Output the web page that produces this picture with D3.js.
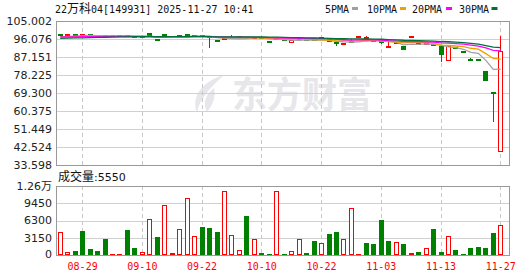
<!DOCTYPE html>
<html><head><meta charset="utf-8">
<script src="https://cdn.jsdelivr.net/npm/d3@7/dist/d3.min.js"></script>
<style>body{margin:0;background:#fff}svg{display:block}</style>
</head><body><svg id="c" width="530" height="276"></svg>
<script>
const title = "22万科04[149931] 2025-11-27 10:41";
const dates = ["08-26","08-27","08-28","08-29","09-01","09-02","09-03","09-04","09-05","09-08","09-09","09-10","09-11","09-12","09-15","09-16","09-17","09-18","09-19","09-22","09-23","09-24","09-25","09-26","09-29","09-30","10-09","10-10","10-13","10-14","10-15","10-16","10-17","10-20","10-21","10-22","10-23","10-24","10-27","10-28","10-29","10-30","10-31","11-03","11-04","11-05","11-06","11-07","11-10","11-11","11-12","11-13","11-14","11-17","11-18","11-19","11-20","11-21","11-24","11-27"];
const open  = [97.95,97.85,97.95,97.80,97.84,97.80,97.50,97.30,97.35,97.40,97.25,97.15,98.90,95.60,98.60,97.25,97.30,98.50,97.40,97.50,97.70,95.60,96.00,96.70,96.80,96.90,96.70,96.50,94.60,95.80,95.50,94.20,95.80,95.60,95.45,97.00,96.40,94.80,92.90,94.60,96.95,96.70,95.20,94.80,91.90,94.30,92.80,96.95,93.40,93.40,93.05,92.70,85.30,91.60,89.60,85.80,85.70,80.20,69.60,39.90];
const high  = [97.95,97.95,97.95,97.92,97.84,97.80,97.50,97.35,97.40,97.40,97.25,97.20,98.90,95.60,98.60,97.30,97.35,98.50,97.90,97.50,97.70,95.60,96.15,97.90,96.90,96.90,96.80,96.50,94.60,95.95,95.50,95.50,95.95,95.60,95.45,97.00,96.40,94.80,94.20,95.90,97.05,97.70,95.20,94.80,94.70,94.30,92.80,97.05,93.40,93.50,93.15,92.70,93.20,91.60,89.60,86.70,85.70,80.20,69.60,97.60];
const low   = [97.88,97.85,97.86,97.80,97.80,97.50,97.30,97.30,97.35,97.25,97.15,97.15,97.30,95.40,96.50,97.25,97.30,97.50,97.40,97.40,91.80,94.80,96.00,96.70,96.80,96.70,96.70,96.40,94.45,95.80,95.35,94.20,95.80,95.45,95.30,95.90,94.40,92.80,92.90,93.90,96.95,96.70,95.00,93.40,91.90,94.20,90.40,96.95,93.30,93.40,93.05,84.80,85.30,91.45,89.45,85.65,85.60,75.20,55.00,39.90];
const close = [97.88,97.93,97.86,97.84,97.80,97.50,97.30,97.35,97.40,97.25,97.15,97.20,97.30,95.40,97.20,97.30,97.35,97.50,97.90,97.40,96.40,94.80,96.15,96.80,96.90,96.70,96.80,96.40,94.45,95.95,95.35,95.50,95.95,95.45,95.30,95.90,94.40,93.40,94.20,94.50,97.05,96.90,95.00,94.00,92.00,94.20,90.40,97.05,93.30,93.50,93.15,88.10,92.80,91.45,89.45,85.65,85.60,75.20,69.30,90.10];
const volume = [4200,550,800,4380,1100,800,2920,150,150,4560,1280,550,6500,3290,9130,360,4700,10400,3400,5100,4930,4200,11690,3590,850,7120,2860,360,150,11620,150,670,2860,360,2560,2190,3830,4200,2860,8520,150,2190,2010,6390,2560,2370,2010,360,550,1330,4750,550,3400,910,150,1280,1460,1280,4080,5550];
// closes of the 29 sessions before the window (estimated from the MA lines)
const priorClose = [94.8,95.0,95.2,94.9,95.1,95.0,94.8,95.1,95.0,95.1, 97.0,97.2,97.1,97.0,97.2,97.1,97.1,97.0,97.2,97.1, 97.0,97.1,96.9,97.0,97.0,97.1,96.9,97.0,97.0];
const priceTicks = [105.002,96.076,87.151,78.225,69.300,60.375,51.449,42.524,33.598];
const priceTickLabels = ["105.002","96.076","87.151","78.225","69.300","60.375","51.449","42.524","33.598"];
const volTicks = [12600,9450,6300,3150,0];
const volTickLabels = ["1.26万","9450","6300","3150","0"];
const dateTicks = ["08-29","09-10","09-22","10-10","10-22","11-03","11-13","11-27"];
const maPeriods = [5,10,20,30];
const maNames = ["5PMA","10PMA","20PMA","30PMA"];
const volLabel = "成交量:";
const lastVolume = 5550;

const RED="#ff0000", GREEN="#008000";
const maColors = ["#a0a0a0","#f0a000","#ff00ff","#00703c"];
const svg = d3.select("#c");
const L=56, R=509, T=21, B=165, VT=186, VB=255;
const x = d3.scaleBand().domain(dates).range([56.5,504.5]);
const cx = d => x(d) + x.bandwidth()/2;
const y = d3.scaleLinear().domain([33.598,105.002]).range([B,T]);
const yv = d3.scaleLinear().domain([0,12600]).range([VB,VT]);
const mono = "'DejaVu Sans Mono','Liberation Mono',monospace";
const cjk = "'Noto Sans CJK SC','DejaVu Sans',sans-serif";

// watermark
const wm = svg.append("g").attr("fill","#e6e6eb");
wm.append("path").attr("d","M224,75 C206,80 190,94 197,113 C199,99 210,88 224,75 Z");
wm.append("path").attr("d","M214,88 C204,96 203,104 207,112 C213,104 216,97 214,88 Z");
wm.append("text").attr("x",232).attr("y",108).attr("font-family",cjk).attr("font-weight","bold")
  .attr("font-size",36).attr("textLength",140).attr("lengthAdjust","spacingAndGlyphs").text("东方财富");

// grids
const g = svg.append("g").attr("shape-rendering","crispEdges");
g.selectAll(".hg").data(priceTicks.slice(1,-1)).join("line")
  .attr("x1",L).attr("x2",R).attr("y1",d=>Math.round(y(d))+0.5).attr("y2",d=>Math.round(y(d))+0.5)
  .attr("stroke","#d0d0d0");
g.selectAll(".vg").data(volTicks.slice(1,-1)).join("line")
  .attr("x1",L).attr("x2",R).attr("y1",d=>Math.round(yv(d))+0.5).attr("y2",d=>Math.round(yv(d))+0.5)
  .attr("stroke","#d0d0d0");
dateTicks.forEach(d=>{
  const xx = Math.floor(cx(d))+0.5;
  [[T,B],[VT,VB]].forEach(([a,b])=>g.append("line").attr("x1",xx).attr("x2",xx).attr("y1",a).attr("y2",b)
    .attr("stroke","#c8c8c8").attr("stroke-dasharray","4,3"));
});
g.append("rect").attr("x",L+0.5).attr("y",T+0.5).attr("width",R-L).attr("height",B-T).attr("fill","none").attr("stroke","#999");
g.append("rect").attr("x",L+0.5).attr("y",VT+0.5).attr("width",R-L).attr("height",VB-VT).attr("fill","none").attr("stroke","#999");

// axis labels
svg.append("g").selectAll("text").data(priceTicks).join("text")
  .attr("x",52).attr("y",d=>y(d)).attr("dy","0.36em").attr("text-anchor","end")
  .attr("font-family","'DejaVu Sans',sans-serif").attr("font-size",11).attr("fill","#222")
  .text((d,i)=>priceTickLabels[i]);
svg.append("g").selectAll("text").data(volTicks).join("text")
  .attr("x",52).attr("y",d=>yv(d)-(d===0?1:0)).attr("dy","0.36em").attr("text-anchor","end")
  .attr("font-family","'DejaVu Sans','Noto Sans CJK SC',sans-serif").attr("font-size",11).attr("fill","#222")
  .text((d,i)=>volTickLabels[i]);
svg.append("g").selectAll("text").data(dateTicks).join("text")
  .attr("x",d=>cx(d)).attr("y",266).attr("dy","0.36em").attr("text-anchor","middle")
  .attr("font-family",mono).attr("font-size",10).attr("fill",RED).text(d=>d);

// title
const tt = svg.append("text").attr("x",55).attr("y",12.5).attr("font-family",mono).attr("font-size",10).attr("fill","#111");
title.split(/([\u4e00-\u9fff]+)/).forEach(s=>{ if(!s) return;
  const cj = /[\u4e00-\u9fff]/.test(s);
  tt.append("tspan").attr("font-family",cj?cjk:mono).attr("font-size",cj?12:10).text(s); });

// legend
const legX = [325,367,412,459], swX=[352,400,446,491.5];
maNames.forEach((n,k)=>{
  svg.append("text").attr("x",legX[k]).attr("y",12.5).attr("font-family",mono).attr("font-size",10).attr("fill","#111").text(n);
  svg.append("rect").attr("x",swX[k]).attr("y",7).attr("width",6).attr("height",3).attr("fill",maColors[k]);
});

// volume title
const vt = svg.append("text").attr("x",58).attr("y",181).attr("fill","#111");
vt.append("tspan").attr("font-family",cjk).attr("font-size",12).text(volLabel.slice(0,3));
vt.append("tspan").attr("font-family","'DejaVu Sans',sans-serif").attr("font-size",11).text(volLabel.slice(3)+lastVolume);

// volume bars (colour by close vs previous close)
const prevClose = i => i===0 ? priorClose[priorClose.length-1] : close[i-1];
const vg = svg.append("g").attr("shape-rendering","crispEdges");
dates.forEach((d,i)=>{
  const xl = Math.round(cx(d)-2.5);
  const top = Math.min(Math.round(yv(volume[i])), VB-1);
  const up = close[i] >= prevClose(i);
  if (up) vg.append("rect").attr("x",xl+0.5).attr("y",top+0.5).attr("width",4).attr("height",Math.max(VB-top-1,0.01))
      .attr("fill","#fff").attr("stroke",RED);
  else vg.append("rect").attr("x",xl).attr("y",top).attr("width",5).attr("height",VB-top).attr("fill",GREEN);
});

// candles
const cg = svg.append("g").attr("shape-rendering","crispEdges");
dates.forEach((d,i)=>{
  const o=open[i], c=close[i];
  const xl = Math.round(cx(d)-2.5), xm = xl+2.5;
  let top = y(Math.max(o,c)), bot = y(Math.min(o,c));
  if (bot-top < 2){ const m=(top+bot)/2; top=m-1; bot=m+1; }
  top=Math.round(top); bot=Math.round(bot);
  const yh=Math.round(y(high[i])), yl=Math.round(y(low[i]));
  const up = c>=o, col = up?RED:GREEN;
  if (yh<top) cg.append("line").attr("x1",xm).attr("x2",xm).attr("y1",yh).attr("y2",top).attr("stroke",col);
  if (yl>bot) cg.append("line").attr("x1",xm).attr("x2",xm).attr("y1",bot).attr("y2",yl).attr("stroke",col);
  if (up) cg.append("rect").attr("x",xl+0.5).attr("y",top+0.5).attr("width",4).attr("height",Math.max(bot-top-1,0.01))
     .attr("fill","#fff").attr("stroke",RED);
  else cg.append("rect").attr("x",xl).attr("y",top).attr("width",5).attr("height",bot-top).attr("fill",GREEN);
});

// moving averages
const full = priorClose.concat(close);
const off = priorClose.length;
maPeriods.forEach((p,k)=>{
  const vals = close.map((_,i)=>d3.mean(full.slice(off+i-p+1, off+i+1)));
  svg.append("path").datum(vals)
    .attr("d", d3.line().x((v,i)=>cx(dates[i])).y(v=>y(v)))
    .attr("fill","none").attr("stroke",maColors[k]).attr("stroke-width",1.3);
});
</script></body></html>
